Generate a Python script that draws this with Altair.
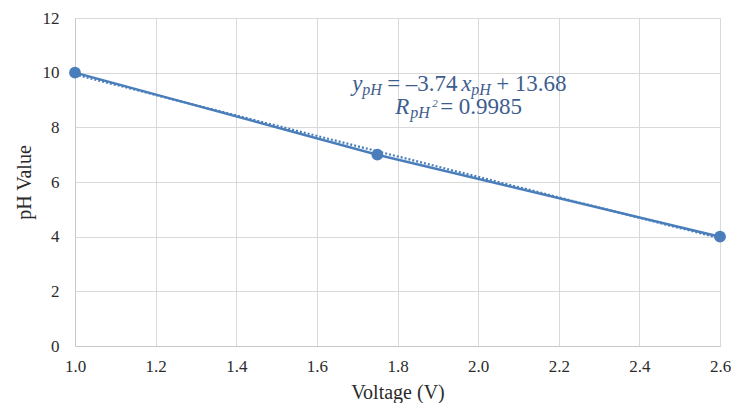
import altair as alt
import pandas as pd

voltage = [1.0, 1.75, 2.6]
ph_value = [10, 7, 4]

x_ticks = [1.0, 1.2, 1.4, 1.6, 1.8, 2.0, 2.2, 2.4, 2.6]
y_ticks = [0, 2, 4, 6, 8, 10, 12]

BLUE = "#4a7ebb"
TXT = "#3d5d8e"
FONT = "Liberation Serif"

df = pd.DataFrame({"Voltage": voltage, "pH": ph_value})

xs = alt.Scale(domain=[1.0, 2.6], nice=False, zero=False)
ys = alt.Scale(domain=[0, 12], nice=False)

x_axis = alt.Axis(values=x_ticks, format=".1f", title="Voltage (V)", ticks=False,
                  labelPadding=12, titlePadding=8, labelFontSize=17, titleFontSize=20,
                  labelFont=FONT, titleFont=FONT, titleFontWeight="normal",
                  labelColor="#2b2b2b", titleColor="#2b2b2b",
                  domainColor="#c8c8c8", gridColor="#d9d9d9", labelFlush=False)
y_axis = alt.Axis(values=y_ticks, title="pH Value", ticks=False,
                  labelPadding=16, titlePadding=8, labelFontSize=17, titleFontSize=20,
                  labelFont=FONT, titleFont=FONT, titleFontWeight="normal",
                  labelColor="#2b2b2b", titleColor="#2b2b2b",
                  domainColor="#c8c8c8", gridColor="#d9d9d9")

base = alt.Chart(df)

line = base.mark_line(color=BLUE, strokeWidth=2.5).encode(
    x=alt.X("Voltage:Q", scale=xs, axis=x_axis),
    y=alt.Y("pH:Q", scale=ys, axis=y_axis),
)

trend = base.transform_regression("Voltage", "pH", extent=[1.0, 2.6]).mark_line(
    color=BLUE, strokeWidth=2.2, strokeDash=[2, 2]
).encode(x=alt.X("Voltage:Q", scale=xs), y=alt.Y("pH:Q", scale=ys))

points = base.mark_circle(color=BLUE, size=140, opacity=1).encode(
    x=alt.X("Voltage:Q", scale=xs), y=alt.Y("pH:Q", scale=ys)
)

# annotation anchor (left edge of the equation, baseline of first line)
anchor = pd.DataFrame({"Voltage": [1.6875], "pH": [9.33]})
abase = alt.Chart(anchor).encode(x=alt.X("Voltage:Q", scale=xs), y=alt.Y("pH:Q", scale=ys))

pieces = [
    # text, dx, dy, size, italic
    ("y", 0, 0, 23, True),
    ("pH", 10, 4, 16, True),
    ("= \u20133.74", 35, 0, 23, False),
    ("x", 109, 0, 23, True),
    ("pH", 119, 4, 16, True),
    ("+ 13.68", 144, 0, 23, False),
    ("R", 43, 23, 23, True),
    ("pH", 58, 27, 16, True),
    ("2", 80, 16, 11, True),
    ("= 0.9985", 88, 23, 23, False),
]

layers = [line, trend, points]
for t, dx, dy, sz, it in pieces:
    layers.append(
        abase.mark_text(text=t, align="left", baseline="alphabetic", dx=dx, dy=dy,
                        font=FONT, fontSize=sz, fontStyle="italic" if it else "normal",
                        color=TXT)
    )

chart = alt.layer(*layers).properties(
    width=645, height=328,
    autosize=alt.AutoSizeParams(type="none"),
    padding={"left": 67, "top": 10, "right": 11, "bottom": 57},
).configure_view(stroke=None).configure(background="white")

chart.save("out.html", embed_options={"renderer": "svg", "actions": False})
